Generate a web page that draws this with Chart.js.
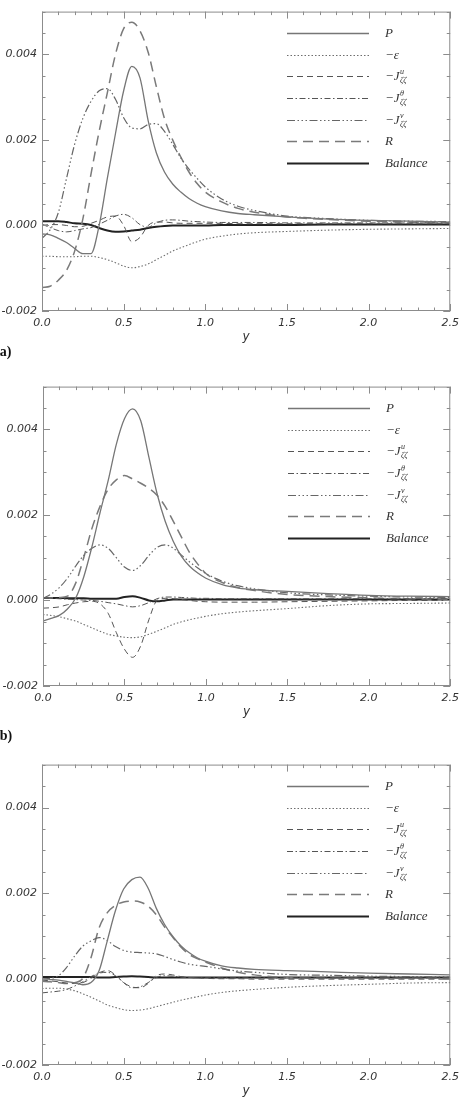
<!DOCTYPE html>
<html>
<head>
<meta charset="utf-8">
<script src="https://cdn.jsdelivr.net/npm/chart.js@4.4.1/dist/chart.umd.min.js"></script>
<style>
body{margin:0;background:#fff;width:465px;height:1100px;position:relative;overflow:hidden;}
canvas{position:absolute;left:0;}
.tag{position:absolute;left:-5px;font:bold 14px "Liberation Serif",serif;color:#111;line-height:16px;}
</style>
</head>
<body>
<canvas id="chartA" width="465" height="350" style="top:0px"></canvas>
<canvas id="chartB" width="465" height="350" style="top:375px"></canvas>
<canvas id="chartC" width="465" height="347" style="top:753px"></canvas>
<div class="tag" style="top:344px">(a)</div>
<div class="tag" style="top:728px">(b)</div>
<script>
// y positions (x axis of the plot)
const xVals = [0, 0.05, 0.1, 0.15, 0.2, 0.25, 0.3, 0.35, 0.4, 0.45, 0.5, 0.55, 0.6, 0.65, 0.7, 0.75, 0.8, 0.85, 0.9, 0.95, 1.0, 1.1, 1.2, 1.3, 1.5, 1.75, 2.0, 2.25, 2.5];
const xTicks = [0, 0.5, 1.0, 1.5, 2.0, 2.5];
const yTicks = [-0.002, 0, 0.002, 0.004];

// legend names: base, superscript, subscript
const seriesNames = ['P', '\u2212\u03b5', '\u2212J', '\u2212J', '\u2212J', 'R', 'Balance'];
const seriesSup = ['', '', 'u', '\u03b8', 'v', '', ''];
const seriesSub = ['', '', '\u03b6\u03b6', '\u03b6\u03b6', '\u03b6\u03b6', '', ''];

// panel (a)
const pA   = [-0.00020, -0.00022, -0.00030, -0.00040, -0.00054, -0.00066, -0.00066, 0.00000, 0.00110, 0.00215, 0.00315, 0.00372, 0.00345, 0.00245, 0.00170, 0.00125, 0.00097, 0.00078, 0.00063, 0.00052, 0.00044, 0.00034, 0.00028, 0.00025, 0.00020, 0.00015, 0.00012, 0.00010, 0.00008];
const epsA = [-0.00072, -0.00072, -0.00073, -0.00073, -0.00073, -0.00072, -0.00072, -0.00075, -0.00080, -0.00087, -0.00095, -0.00099, -0.00096, -0.00090, -0.00080, -0.00070, -0.00060, -0.00052, -0.00045, -0.00038, -0.00032, -0.00025, -0.00020, -0.00017, -0.00014, -0.00011, -0.00009, -0.00008, -0.00007];
const juA  = [0.00000, 0.00002, 0.00002, 0.00000, -0.00003, -0.00002, 0.00005, 0.00012, 0.00020, 0.00022, 0.00000, -0.00038, -0.00028, 0.00000, 0.00008, 0.00008, 0.00006, 0.00005, 0.00005, 0.00005, 0.00005, 0.00005, 0.00004, 0.00004, 0.00004, 0.00004, 0.00004, 0.00004, 0.00004];
const jthA = [0.00003, -0.00005, -0.00012, -0.00015, -0.00012, -0.00008, -0.00005, 0.00003, 0.00012, 0.00022, 0.00026, 0.00018, 0.00002, -0.00004, 0.00006, 0.00012, 0.00013, 0.00012, 0.00010, 0.00009, 0.00008, 0.00007, 0.00007, 0.00007, 0.00006, 0.00006, 0.00006, 0.00006, 0.00006];
const jvA  = [-0.00030, -0.00010, 0.00030, 0.00110, 0.00190, 0.00250, 0.00290, 0.00315, 0.00320, 0.00295, 0.00252, 0.00228, 0.00226, 0.00236, 0.00238, 0.00220, 0.00190, 0.00158, 0.00132, 0.00110, 0.00090, 0.00062, 0.00045, 0.00035, 0.00022, 0.00016, 0.00012, 0.00010, 0.00009];
const rA   = [-0.00145, -0.00142, -0.00128, -0.00105, -0.00060, 0.00015, 0.00120, 0.00220, 0.00310, 0.00400, 0.00460, 0.00475, 0.00455, 0.00405, 0.00325, 0.00250, 0.00200, 0.00160, 0.00125, 0.00098, 0.00078, 0.00055, 0.00040, 0.00031, 0.00020, 0.00014, 0.00010, 0.00008, 0.00006];
const balA = [0.00010, 0.00010, 0.00010, 0.00008, 0.00005, 0.00004, 0.00001, -0.00006, -0.00012, -0.00015, -0.00014, -0.00012, -0.00010, -0.00006, -0.00003, -0.00001, 0.00000, 0.00000, 0.00000, 0.00000, 0.00000, 0.00001, 0.00001, 0.00001, 0.00001, 0.00002, 0.00002, 0.00002, 0.00002];

// panel (b)
const pB   = [-0.00048, -0.00042, -0.00035, -0.00020, 0.00005, 0.00055, 0.00125, 0.00205, 0.00280, 0.00365, 0.00425, 0.00448, 0.00420, 0.00335, 0.00250, 0.00185, 0.00138, 0.00103, 0.00080, 0.00064, 0.00052, 0.00037, 0.00029, 0.00025, 0.00021, 0.00016, 0.00012, 0.00010, 0.00009];
const epsB = [-0.00033, -0.00035, -0.00038, -0.00043, -0.00048, -0.00056, -0.00064, -0.00072, -0.00079, -0.00083, -0.00086, -0.00087, -0.00085, -0.00079, -0.00072, -0.00064, -0.00056, -0.00050, -0.00045, -0.00041, -0.00037, -0.00031, -0.00027, -0.00024, -0.00019, -0.00012, -0.00008, -0.00007, -0.00006];
const juB  = [-0.00018, -0.00017, -0.00015, -0.00010, -0.00006, -0.00003, -0.00002, -0.00008, -0.00030, -0.00075, -0.00114, -0.00133, -0.00106, -0.00045, 0.00000, 0.00005, 0.00004, 0.00002, 0.00000, -0.00002, -0.00003, -0.00004, -0.00004, -0.00004, -0.00003, -0.00002, -0.00001, 0.00000, 0.00000];
const jthB = [0.00005, 0.00005, 0.00004, 0.00003, 0.00002, 0.00001, 0.00000, -0.00002, -0.00005, -0.00008, -0.00012, -0.00015, -0.00012, -0.00005, 0.00004, 0.00008, 0.00008, 0.00007, 0.00006, 0.00005, 0.00005, 0.00004, 0.00004, 0.00004, 0.00004, 0.00004, 0.00004, 0.00004, 0.00004];
const jvB  = [0.00005, 0.00015, 0.00030, 0.00052, 0.00080, 0.00105, 0.00122, 0.00130, 0.00122, 0.00100, 0.00078, 0.00070, 0.00082, 0.00105, 0.00124, 0.00130, 0.00122, 0.00106, 0.00090, 0.00076, 0.00063, 0.00045, 0.00034, 0.00027, 0.00018, 0.00013, 0.00010, 0.00008, 0.00007];
const rB   = [0.00005, 0.00006, 0.00007, 0.00010, 0.00040, 0.00100, 0.00168, 0.00220, 0.00260, 0.00282, 0.00292, 0.00284, 0.00274, 0.00262, 0.00246, 0.00220, 0.00185, 0.00148, 0.00112, 0.00085, 0.00063, 0.00042, 0.00030, 0.00023, 0.00014, 0.00009, 0.00006, 0.00004, 0.00003];
const balB = [0.00006, 0.00006, 0.00006, 0.00005, 0.00005, 0.00005, 0.00004, 0.00004, 0.00004, 0.00004, 0.00008, 0.00010, 0.00006, 0.00000, -0.00002, 0.00000, 0.00002, 0.00002, 0.00002, 0.00002, 0.00002, 0.00002, 0.00002, 0.00002, 0.00002, 0.00002, 0.00002, 0.00002, 0.00002];

// panel (c)
const pC   = [0.00000, -0.00001, -0.00002, -0.00005, -0.00009, -0.00013, -0.00008, 0.00020, 0.00090, 0.00160, 0.00210, 0.00232, 0.00238, 0.00212, 0.00165, 0.00128, 0.00100, 0.00078, 0.00062, 0.00050, 0.00042, 0.00031, 0.00026, 0.00023, 0.00020, 0.00017, 0.00014, 0.00012, 0.00010];
const epsC = [-0.00022, -0.00021, -0.00021, -0.00023, -0.00027, -0.00034, -0.00042, -0.00051, -0.00060, -0.00066, -0.00071, -0.00073, -0.00072, -0.00069, -0.00064, -0.00059, -0.00054, -0.00049, -0.00045, -0.00041, -0.00037, -0.00031, -0.00027, -0.00024, -0.00019, -0.00015, -0.00012, -0.00009, -0.00008];
const juC  = [-0.00002, -0.00004, -0.00006, -0.00009, -0.00010, -0.00008, 0.00002, 0.00015, 0.00020, 0.00010, -0.00008, -0.00018, -0.00020, -0.00010, 0.00008, 0.00012, 0.00010, 0.00006, 0.00004, 0.00003, 0.00002, 0.00001, 0.00001, 0.00000, 0.00000, 0.00000, 0.00000, 0.00000, 0.00000];
const jthC = [-0.00032, -0.00030, -0.00028, -0.00024, -0.00016, -0.00006, 0.00006, 0.00014, 0.00016, 0.00008, -0.00008, -0.00020, -0.00018, -0.00008, 0.00004, 0.00008, 0.00007, 0.00005, 0.00004, 0.00003, 0.00003, 0.00003, 0.00003, 0.00003, 0.00003, 0.00003, 0.00003, 0.00003, 0.00003];
const jvC  = [0.00000, 0.00002, 0.00008, 0.00027, 0.00054, 0.00077, 0.00089, 0.00097, 0.00090, 0.00076, 0.00067, 0.00063, 0.00062, 0.00061, 0.00059, 0.00053, 0.00046, 0.00040, 0.00035, 0.00032, 0.00030, 0.00024, 0.00019, 0.00016, 0.00011, 0.00009, 0.00007, 0.00006, 0.00005];
const rC   = [-0.00005, -0.00006, -0.00008, -0.00010, -0.00008, 0.00002, 0.00050, 0.00120, 0.00155, 0.00172, 0.00180, 0.00182, 0.00180, 0.00170, 0.00150, 0.00122, 0.00098, 0.00075, 0.00058, 0.00048, 0.00040, 0.00026, 0.00016, 0.00010, 0.00004, 0.00002, 0.00002, 0.00002, 0.00002];
const balC = [0.00005, 0.00005, 0.00005, 0.00005, 0.00005, 0.00005, 0.00005, 0.00004, 0.00004, 0.00005, 0.00006, 0.00007, 0.00006, 0.00005, 0.00004, 0.00004, 0.00004, 0.00004, 0.00004, 0.00004, 0.00004, 0.00004, 0.00004, 0.00004, 0.00004, 0.00004, 0.00004, 0.00004, 0.00004];

// line styles per series (P, -eps, -Ju, -Jtheta, -Jv, R, Balance)
const lineColors = ['#767676', '#6e6e6e', '#555555', '#555555', '#666666', '#7a7a7a', '#222222'];
const lineWidths = [1.3, 1.1, 1, 1, 1.2, 1.5, 2];
const lineDashes = [[], [1.5, 2], [6, 4], [6, 2.5, 1.5, 2.5], [8, 2.5, 1.5, 2.5, 1.5, 2.5, 1.5, 2.5], [10, 6], []];

const tickFont = {family: '"DejaVu Sans", sans-serif', size: 11, style: 'italic'};

// frame + inward ticks (IDL style)
const frameTicks = {
    id: 'frameTicks',
    afterDatasetsDraw(chart) {
        const {ctx, chartArea: a, scales: {x, y}} = chart;
        ctx.save();
        ctx.strokeStyle = '#8c8c8c';
        ctx.lineWidth = 1;
        ctx.strokeRect(a.left + 0.5, a.top + 0.5, a.width - 1, a.height - 1);
        ctx.beginPath();
        for (let i = 0; i <= 25; i++) {
            const px = Math.round(x.getPixelForValue(i / 10)) + 0.5;
            const len = i % 5 === 0 ? 7 : 3.5;
            ctx.moveTo(px, a.bottom); ctx.lineTo(px, a.bottom - len);
            ctx.moveTo(px, a.top); ctx.lineTo(px, a.top + len);
        }
        for (let i = -4; i <= 10; i++) {
            const py = Math.round(y.getPixelForValue(i * 0.0005)) + 0.5;
            const len = i % 4 === 0 ? 7 : 3.5;
            ctx.moveTo(a.left, py); ctx.lineTo(a.left + len, py);
            ctx.moveTo(a.right, py); ctx.lineTo(a.right - len, py);
        }
        ctx.stroke();
        ctx.restore();
    }
};

// legend inside the plot, top right
const curveLegend = {
    id: 'curveLegend',
    afterDraw(chart) {
        const {ctx, chartArea: a} = chart;
        ctx.save();
        chart.data.datasets.forEach((ds, i) => {
            const ly = Math.round(a.top + 21.5 + i * 21.6) + 0.5;
            ctx.beginPath();
            ctx.strokeStyle = ds.borderColor;
            ctx.lineWidth = ds.borderWidth;
            ctx.setLineDash(ds.borderDash);
            ctx.moveTo(a.left + 245, ly);
            ctx.lineTo(a.left + 327, ly);
            ctx.stroke();
            ctx.setLineDash([]);
            let tx = a.left + 343;
            ctx.fillStyle = '#333';
            ctx.textBaseline = 'alphabetic';
            ctx.font = 'italic 13px "Liberation Serif", serif';
            ctx.fillText(seriesNames[i], tx, ly + 3);
            tx += ctx.measureText(seriesNames[i]).width + 0.5;
            if (seriesSup[i]) {
                ctx.font = 'italic 8px "Liberation Serif", serif';
                ctx.fillText(seriesSup[i], tx, ly - 3);
                ctx.fillText(seriesSub[i], tx, ly + 6);
            }
        });
        ctx.restore();
    }
};

function makeChart(id, series, area) {
    const canvas = document.getElementById(id);
    const datasets = series.map((vals, i) => ({
        label: seriesNames[i] + seriesSup[i],
        data: xVals.map((xv, k) => ({x: xv, y: vals[k]})),
        borderColor: lineColors[i],
        borderWidth: lineWidths[i],
        borderDash: lineDashes[i],
        pointRadius: 0,
        fill: false,
        cubicInterpolationMode: 'monotone'
    }));
    return new Chart(canvas, {
        type: 'line',
        data: {datasets: datasets},
        options: {
            responsive: false,
            animation: false,
            events: [],
            layout: {padding: {left: 0, top: area.top, right: canvas.width - area.right, bottom: 0}},
            plugins: {legend: {display: false}, tooltip: {enabled: false}},
            scales: {
                x: {
                    type: 'linear', min: 0, max: 2.5,
                    afterBuildTicks: s => { s.ticks = xTicks.map(v => ({value: v})); },
                    afterFit: s => { s.height = canvas.height - area.bottom; },
                    grid: {display: false, drawTicks: false},
                    border: {display: false},
                    ticks: {padding: 6, color: '#333', font: tickFont, maxRotation: 0, autoSkip: false,
                        callback: v => v.toFixed(1)},
                    title: {display: true, text: 'y', color: '#333',
                        font: {family: '"DejaVu Sans", sans-serif', size: 12, style: 'italic'},
                        padding: {top: 0, bottom: area.titlePad}}
                },
                y: {
                    type: 'linear', min: -0.002, max: 0.005,
                    afterBuildTicks: s => { s.ticks = yTicks.map(v => ({value: v})); },
                    afterFit: s => { s.width = area.left; },
                    grid: {display: false, drawTicks: false},
                    border: {display: false},
                    ticks: {padding: 5, color: '#333', font: tickFont, autoSkip: false,
                        callback: v => v.toFixed(3)}
                }
            }
        },
        plugins: [frameTicks, curveLegend]
    });
}

makeChart('chartA', [pA, epsA, juA, jthA, jvA, rA, balA], {left: 42, top: 8, right: 451, bottom: 311, titlePad: 6});
makeChart('chartB', [pB, epsB, juB, jthB, jvB, rB, balB], {left: 43, top: 10, right: 452, bottom: 311, titlePad: 6});
makeChart('chartC', [pC, epsC, juC, jthC, jvC, rC, balC], {left: 42, top: 10, right: 451, bottom: 312, titlePad: 1.5});
</script>
</body>
</html>
